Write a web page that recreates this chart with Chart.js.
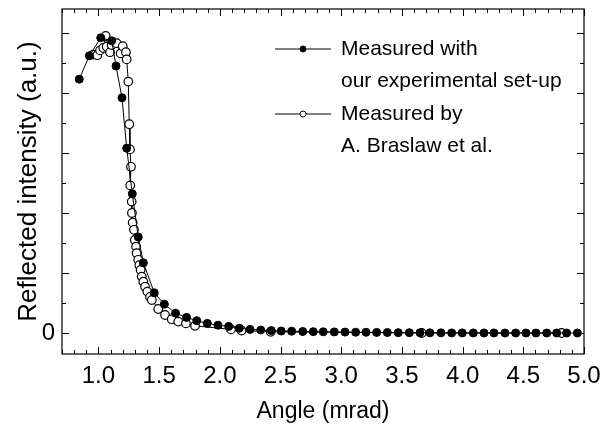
<!DOCTYPE html>
<html lang="en">
<head>
  <meta charset="UTF-8">
  <title>Reflected intensity vs angle</title>
  <script src="https://cdn.jsdelivr.net/npm/chart.js"></script>
  <style>
    body { margin: 0; background: #fff; }
    .wrap { width: 602px; height: 430px; }
  </style>
</head>
<body>

<div class="wrap">
  <canvas id="reflChart" width="602" height="430"></canvas>
</div>

<script>
  // measured with our experimental set-up (filled circles)
  const ourAngle = [0.842, 0.925, 1.019, 1.109, 1.145, 1.194, 1.233, 1.279, 1.328, 1.370,
    1.460, 1.543, 1.635, 1.726, 1.810, 1.897, 1.985, 2.073, 2.160, 2.249,
    2.337, 2.424, 2.506, 2.592, 2.683, 2.770, 2.852, 2.943, 3.031, 3.119,
    3.204, 3.292, 3.380, 3.470, 3.561, 3.649, 3.731, 3.822, 3.910, 3.997,
    4.088, 4.176, 4.258, 4.349, 4.437, 4.522, 4.604, 4.693, 4.775, 4.857, 4.945];
  const ourIntensity = [4.23, 4.62, 4.92, 4.87, 4.45, 3.92, 3.08, 2.32, 1.60, 1.17,
    0.67, 0.48, 0.33, 0.26, 0.205, 0.16, 0.13, 0.11, 0.08, 0.06,
    0.05, 0.04, 0.033, 0.03, 0.025, 0.022, 0.02, 0.018, 0.015, 0.013,
    0.012, 0.01, 0.008, 0.006, 0.005, 0.004, 0.003, 0.003, 0.002, 0.002,
    0.001, 0.001, 0.001, 0, 0, 0, 0, 0, 0, 0, 0];

  // measured by A. Braslaw et al. (open circles)
  const braslawAngle = [0.958, 0.991, 1.013, 1.040, 1.060, 1.068, 1.095, 1.109, 1.150, 1.183,
    1.200, 1.227, 1.233, 1.246, 1.254, 1.260, 1.268, 1.262, 1.274, 1.276,
    1.282, 1.293, 1.300, 1.310, 1.315, 1.328, 1.337, 1.348, 1.357, 1.370,
    1.384, 1.403, 1.425, 1.440, 1.493, 1.549, 1.604, 1.658, 1.721, 1.796,
    2.092, 2.180, 2.419, 3.663, 4.816];
  const braslawIntensity = [4.64, 4.63, 4.71, 4.75, 4.95, 4.77, 4.68, 4.80, 4.83, 4.66,
    4.78, 4.68, 4.56, 4.19, 3.48, 3.06, 2.77, 2.46, 2.19, 2.00,
    1.84, 1.72, 1.55, 1.44, 1.33, 1.22, 1.13, 1.05, 0.94, 0.855,
    0.77, 0.69, 0.60, 0.55, 0.40, 0.30, 0.23, 0.19, 0.16, 0.12,
    0.06, 0.04, 0.02, 0, 0];

  const xMajorTicks = [1.0, 1.5, 2.0, 2.5, 3.0, 3.5, 4.0, 4.5, 5.0];
  const yMajorTicks = [0, 1, 2, 3, 4, 5];
  const yTickLabels = ['0'];

  const legendRows = [
    { lines: ['Measured with', 'our experimental set-up'], filled: true },
    { lines: ['Measured by', 'A. Braslaw et al.'], filled: false }
  ];

  const FONT = '"Liberation Sans", Arial, Helvetica, sans-serif';

  function toPoints(xs, ys) {
    return xs.map((x, i) => ({ x: x, y: ys[i] }));
  }

  // frame + inward ticks on all four sides, plus the legend
  const framePlugin = {
    id: 'frame',
    afterDraw(chart) {
      const ctx = chart.ctx;
      const a = chart.chartArea;
      const xs = chart.scales.x, ys = chart.scales.y;
      ctx.save();
      ctx.strokeStyle = '#000';
      ctx.lineWidth = 1.2;
      ctx.strokeRect(a.left, a.top, a.right - a.left, a.bottom - a.top);

      ctx.lineWidth = 1;
      ctx.beginPath();
      for (let v = 0.7; v <= 5.0001; v += 0.1) {
        const major = xMajorTicks.some(t => Math.abs(t - v) < 1e-6);
        const len = major ? 7 : 4;
        const px = Math.round(xs.getPixelForValue(v)) + 0.5;
        ctx.moveTo(px, a.bottom); ctx.lineTo(px, a.bottom - len);
        ctx.moveTo(px, a.top); ctx.lineTo(px, a.top + len);
      }
      for (let v = 0; v <= 5.0001; v += 0.5) {
        const major = yMajorTicks.some(t => Math.abs(t - v) < 1e-6);
        const len = major ? 7 : 4;
        const py = Math.round(ys.getPixelForValue(v)) + 0.5;
        ctx.moveTo(a.left, py); ctx.lineTo(a.left + len, py);
        ctx.moveTo(a.right, py); ctx.lineTo(a.right - len, py);
      }
      ctx.stroke();

      // legend
      ctx.font = '21px ' + FONT;
      ctx.fillStyle = '#000';
      ctx.textBaseline = 'middle';
      let y = 49;
      legendRows.forEach(row => {
        ctx.beginPath();
        ctx.moveTo(275, y); ctx.lineTo(331, y);
        ctx.stroke();
        ctx.beginPath();
        ctx.arc(303, y, 3, 0, Math.PI * 2);
        ctx.fillStyle = row.filled ? '#000' : '#fff';
        ctx.fill();
        ctx.stroke();
        ctx.fillStyle = '#000';
        row.lines.forEach((t, i) => ctx.fillText(t, 341, y + i * 32.5));
        y += 65;
      });
      ctx.restore();
    }
  };

  new Chart(document.getElementById('reflChart'), {
    type: 'scatter',
    data: {
      datasets: [
        {
          label: 'Measured by A. Braslaw et al.',
          data: toPoints(braslawAngle, braslawIntensity),
          showLine: true,
          borderColor: '#000',
          borderWidth: 1,
          pointRadius: 4.3,
          pointBackgroundColor: '#fff',
          pointBorderColor: '#000',
          pointBorderWidth: 1.2,
          order: 2
        },
        {
          label: 'Measured with our experimental set-up',
          data: toPoints(ourAngle, ourIntensity),
          showLine: true,
          borderColor: '#000',
          borderWidth: 1,
          pointRadius: 4,
          pointBackgroundColor: '#000',
          pointBorderColor: '#000',
          pointBorderWidth: 1,
          order: 1
        }
      ]
    },
    options: {
      responsive: false,
      animation: false,
      events: [],
      layout: { padding: { left: 0, right: 18, top: 9, bottom: 2 } },
      plugins: {
        legend: { display: false },
        tooltip: { enabled: false }
      },
      scales: {
        x: {
          type: 'linear',
          min: 0.7,
          max: 5.0,
          grid: { display: false, drawTicks: false },
          border: { display: false },
          afterBuildTicks: s => { s.ticks = xMajorTicks.map(v => ({ value: v })); },
          afterFit: s => { s.height = 74; s.paddingLeft = 0; s.paddingRight = 0; },
          ticks: {
            color: '#000',
            font: { family: FONT, size: 24 },
            padding: 8,
            maxRotation: 0,
            callback: v => Number(v).toFixed(1)
          },
          title: {
            display: true,
            text: 'Angle (mrad)',
            color: '#000',
            font: { family: FONT, size: 23 },
            padding: { top: 0, bottom: 3 }
          }
        },
        y: {
          type: 'linear',
          min: -0.35,
          max: 5.4,
          grid: { display: false, drawTicks: false },
          border: { display: false },
          afterBuildTicks: s => { s.ticks = yTickLabels.map(t => ({ value: Number(t) })); },
          afterFit: s => { s.width = 62; s.paddingTop = 0; s.paddingBottom = 0; },
          ticks: {
            color: '#000',
            font: { family: FONT, size: 24 },
            padding: 7,
            callback: v => String(v)
          },
          title: {
            display: true,
            text: 'Reflected intensity (a.u.)',
            color: '#000',
            font: { family: FONT, size: 26 },
            padding: { top: 13, bottom: 0 }
          }
        }
      }
    },
    plugins: [framePlugin]
  });
</script>

</body>
</html>
